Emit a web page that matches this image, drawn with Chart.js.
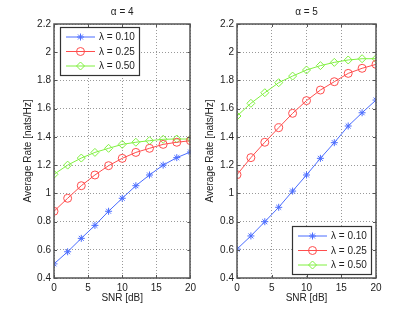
<!DOCTYPE html>
<html>
<head>
<meta charset="utf-8">
<script src="https://cdn.jsdelivr.net/npm/chart.js@4.4.1/dist/chart.umd.min.js"></script>
<style>
  body { margin: 0; background: #fff; }
  #wrap { position: relative; width: 415px; height: 313px; }
  #wrap div { position: absolute; top: 0; }
</style>
</head>
<body>
<div id="wrap">
  <div style="left:0;width:200px;height:313px"><canvas id="left"></canvas></div>
  <div style="left:200px;width:215px;height:313px"><canvas id="right"></canvas></div>
</div>
<script>
const snr = [0, 2, 4, 6, 8, 10, 12, 14, 16, 18, 20];
const lambdaLabels = ["λ = 0.10", "λ = 0.25", "λ = 0.50"];

// alpha = 4
const a4_l010 = [0.50, 0.586, 0.681, 0.773, 0.873, 0.965, 1.054, 1.13, 1.20, 1.253, 1.293];
const a4_l025 = [0.873, 0.965, 1.054, 1.13, 1.196, 1.248, 1.29, 1.319, 1.347, 1.362, 1.373];
const a4_l050 = [1.135, 1.20, 1.25, 1.29, 1.319, 1.347, 1.362, 1.373, 1.383, 1.385, 1.385];

// alpha = 5
const a5_l010 = [0.605, 0.698, 0.799, 0.901, 1.016, 1.13, 1.248, 1.359, 1.477, 1.571, 1.661];
const a5_l025 = [1.132, 1.253, 1.362, 1.465, 1.567, 1.657, 1.732, 1.791, 1.85, 1.886, 1.914];
const a5_l050 = [1.548, 1.638, 1.713, 1.784, 1.831, 1.874, 1.905, 1.928, 1.945, 1.954, 1.954];

const colors = ["#4a6cff", "#ff4d4d", "#80f040"];
const markers = ["star", "circle", "rectRot"];
const radii = [3.5, 4, 4];

const font = "Liberation Sans, Arial, sans-serif";

function makeDatasets(series) {
  return series.map((vals, i) => ({
    label: lambdaLabels[i],
    data: snr.map((x, j) => ({ x: x, y: vals[j] })),
    borderColor: colors[i],
    backgroundColor: "rgba(0,0,0,0)",
    borderWidth: 1,
    pointStyle: markers[i],
    pointRadius: radii[i],
    pointBorderWidth: 1,
    pointBorderColor: colors[i],
    pointBackgroundColor: "rgba(0,0,0,0)",
  }));
}

// matlab style box, inner ticks, title and legend
const matlabFrame = {
  id: "matlabFrame",
  afterDraw(chart, args, opts) {
    const ctx = chart.ctx;
    const a = chart.chartArea;
    const xs = chart.scales.x, ys = chart.scales.y;
    ctx.save();
    ctx.strokeStyle = "#555";
    ctx.lineWidth = 1;
    ctx.beginPath();
    xs.ticks.forEach(t => {
      const px = Math.round(xs.getPixelForValue(t.value)) + 0.5;
      ctx.moveTo(px, a.bottom); ctx.lineTo(px, a.bottom - 3);
      ctx.moveTo(px, a.top); ctx.lineTo(px, a.top + 3);
    });
    ys.ticks.forEach(t => {
      const py = Math.round(ys.getPixelForValue(t.value)) + 0.5;
      ctx.moveTo(a.left, py); ctx.lineTo(a.left + 3, py);
      ctx.moveTo(a.right, py); ctx.lineTo(a.right - 3, py);
    });
    ctx.stroke();
    ctx.lineWidth = 1.5;
    ctx.strokeStyle = "#555";
    ctx.strokeRect(Math.round(a.left), Math.round(a.top), Math.round(a.right - a.left), Math.round(a.bottom - a.top));

    // title
    ctx.fillStyle = "#222";
    ctx.font = "10px " + font;
    ctx.textAlign = "center";
    ctx.textBaseline = "middle";
    ctx.fillText(opts.title, (a.left + a.right) / 2, 12);

    // legend
    const L = opts.legend;
    ctx.fillStyle = "#fff";
    ctx.fillRect(L.x, L.y, L.w, L.h);
    ctx.lineWidth = 1.2;
    ctx.strokeStyle = "#333";
    ctx.strokeRect(L.x + 0.5, L.y + 0.5, L.w, L.h);
    chart.data.datasets.forEach((ds, i) => {
      const yy = L.y + 10 + i * 14.5;
      const x0 = L.x + 6, x1 = L.x + 35;
      ctx.strokeStyle = ds.borderColor;
      ctx.fillStyle = "rgba(0,0,0,0)";
      ctx.lineWidth = 1;
      ctx.beginPath();
      ctx.moveTo(x0, yy); ctx.lineTo(x1, yy);
      ctx.stroke();
      Chart.helpers.drawPoint(ctx, {
        pointStyle: ds.pointStyle, radius: ds.pointRadius, rotation: 0, borderWidth: 1
      }, (x0 + x1) / 2, yy);
      ctx.fillStyle = "#222";
      ctx.textAlign = "left";
      ctx.textBaseline = "middle";
      ctx.font = "10px " + font;
      ctx.fillText(ds.label, x1 + 4, yy + 0.5);
    });
    ctx.restore();
  }
};

function makeChart(id, series, title, legend, yAxisWidth, padRight, yTitlePad) {
  return new Chart(id, {
    type: "line",
    data: { datasets: makeDatasets(series) },
    options: {
      responsive: true,
      maintainAspectRatio: false,
      animation: false,
      layout: { padding: { top: 24, right: padRight, left: 0, bottom: 0 } },
      plugins: {
        legend: { display: false },
        tooltip: { enabled: false },
        matlabFrame: { title: title, legend: legend },
      },
      scales: {
        x: {
          type: "linear",
          min: 0,
          max: 20,
          ticks: { stepSize: 5, padding: 4, color: "#222", font: { family: font, size: 10 } },
          grid: { color: "rgba(0,0,0,0.4)", drawTicks: false },
          border: { display: false, dash: [1, 2] },
          title: { display: true, text: "SNR [dB]", color: "#222", font: { family: font, size: 10 }, padding: { top: 0, bottom: 9 } },
          afterFit(scale) { scale.height = 35; },
        },
        y: {
          min: 0.4,
          max: 2.2,
          ticks: {
            stepSize: 0.2,
            padding: 3,
            color: "#222",
            font: { family: font, size: 10 },
            callback: v => String(Number(v.toFixed(1))),
          },
          grid: { color: "rgba(0,0,0,0.4)", drawTicks: false },
          border: { display: false, dash: [1, 2] },
          title: { display: true, text: "Average Rate [nats/Hz]", color: "#222", font: { family: font, size: 10 }, padding: { top: yTitlePad, bottom: 0 } },
          afterFit(scale) { scale.width = yAxisWidth; },
        },
      },
    },
    plugins: [matlabFrame],
  });
}

makeChart("left", [a4_l010, a4_l025, a4_l050], "α = 4",
  { x: 60, y: 27, w: 79, h: 48 }, 54, 7, 22);
makeChart("right", [a5_l010, a5_l025, a5_l050], "α = 5",
  { x: 92, y: 226, w: 79, h: 48 }, 37, 39, 4);
</script>
</body>
</html>
